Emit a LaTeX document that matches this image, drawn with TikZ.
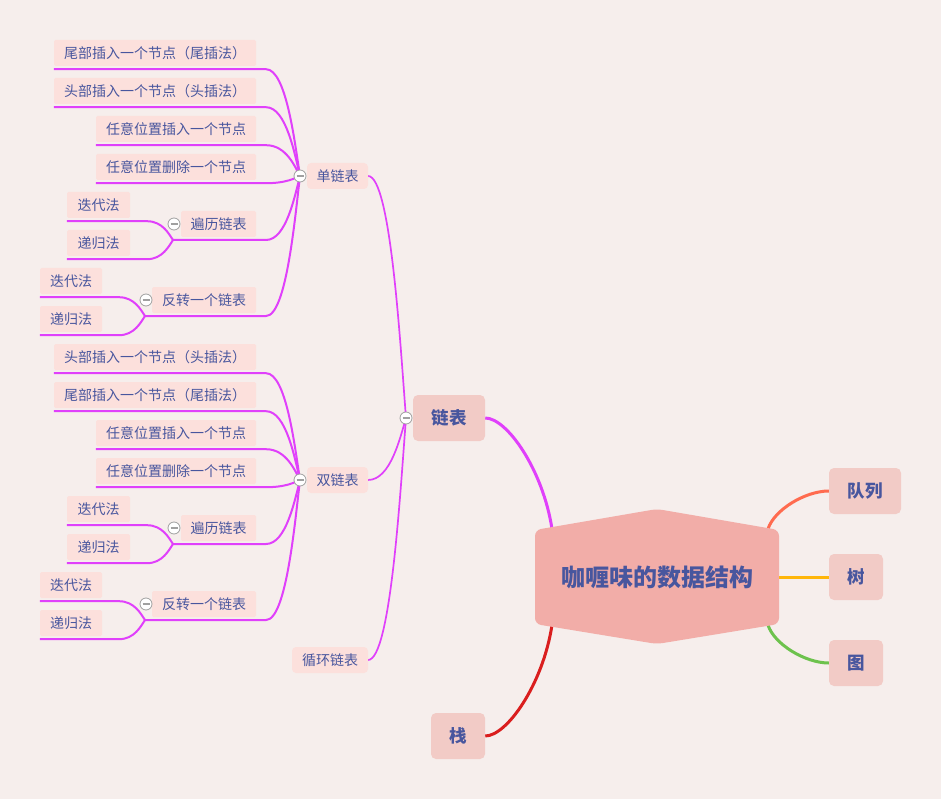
\documentclass[tikz,border=0pt]{standalone}
\usepackage{fontspec}
\newfontfamily\cjk{Noto Sans CJK SC}
\usetikzlibrary{calc}
\definecolor{bgc}{HTML}{F6EEEC}
\definecolor{leaffill}{HTML}{FCE0DC}
\definecolor{lonefill}{HTML}{F2CBC6}
\definecolor{ctrfill}{HTML}{F2ADA8}
\definecolor{txt}{HTML}{48569E}
\definecolor{mag}{HTML}{E040FB}
\definecolor{redl}{HTML}{DA1E1E}
\definecolor{orl}{HTML}{FF6B4F}
\definecolor{yel}{HTML}{FFB60A}
\definecolor{grn}{HTML}{6DC24D}
\definecolor{togc}{HTML}{A0A0A0}
\pgfdeclarelayer{back}
\pgfdeclarelayer{lines}
\pgfsetlayers{back,lines,main}
\tikzset{
  lvlthree/.style={fill=leaffill, text=txt, font=\cjk\fontsize{14}{16}\selectfont, minimum height=26pt, inner sep=0pt, rounded corners=1.5pt},
  lvltwo/.style={lvlthree, rounded corners=4pt},
  lvlone/.style={fill=lonefill, text=txt, font=\cjk\bfseries\fontsize{17.5}{20}\selectfont, minimum height=46pt, inner sep=0pt, rounded corners=5pt},
  ctrtext/.style={text=txt, font=\cjk\bfseries\fontsize{24}{26}\selectfont, inner sep=0pt},
  br/.style={draw=mag, line width=2pt},
  brtwo/.style={draw=mag, line width=1.7pt},
  lone/.style={line width=3pt},
  tog/.style={circle, draw=togc, fill=white, minimum size=12pt, inner sep=0pt, line width=0.8pt,
    path picture={\draw[togc, line width=1.4pt] ([xshift=-3.5pt]path picture bounding box.center) -- ([xshift=3.5pt]path picture bounding box.center);}},
}
% #1 style, #2 start, #3 x where straight part ends, #4 target
\newcommand\mmconn[4][br]{\draw[#1] let \p1=(#2), \p2=(#4) in (\p1) -- (#3pt,\y1) .. controls ({#3pt+0.6*(\x2-#3pt)},\y1) and ({\x2-0.15*(\x2-#3pt)},{\y2-0.3*(\y2-\y1)}) .. (\p2);}
% #1 prefix, #2 dy, #3 text1, #4 text2, #5 junction toggle
\newcommand\listblock[5]{%
  \node[lvlthree, minimum width=202pt] (#1n1) at (155,{53+#2}) {#3};
  \node[lvlthree, minimum width=202pt] (#1n2) at (155,{91+#2}) {#4};
  \node[lvlthree, minimum width=160pt] (#1n3) at (176,{129+#2}) {任意位置插入一个节点};
  \node[lvlthree, minimum width=160pt] (#1n4) at (176,{167+#2}) {任意位置删除一个节点};
  \node[lvlthree, minimum width=75pt] (#1n5) at (218.5,{224+#2}) {遍历链表};
  \node[lvlthree, minimum width=104pt] (#1n6) at (204,{300+#2}) {反转一个链表};
  \node[lvlthree, minimum width=63pt] (#1n5a) at (98.5,{205+#2}) {迭代法};
  \node[lvlthree, minimum width=63pt] (#1n5b) at (98.5,{243+#2}) {递归法};
  \node[lvlthree, minimum width=62pt] (#1n6a) at (71,{281+#2}) {迭代法};
  \node[lvlthree, minimum width=62pt] (#1n6b) at (71,{319+#2}) {递归法};
  \coordinate (#1j5) at (173,{240+#2});
  \coordinate (#1j6) at (145,{316+#2});
  \begin{pgfonlayer}{lines}
    \mmconn{[yshift=-3pt]#1n1.south west}{266}{#5.center}
    \mmconn{[yshift=-3pt]#1n2.south west}{266}{#5.center}
    \mmconn{[yshift=-3pt]#1n3.south west}{266}{#5.center}
    \mmconn{[yshift=-3pt]#1n4.south west}{266}{#5.center}
    \mmconn{#1j5}{266}{#5.center}
    \mmconn{#1j6}{266}{#5.center}
    \mmconn{[yshift=-3pt]#1n5a.south west}{147}{#1j5}
    \mmconn{[yshift=-3pt]#1n5b.south west}{147}{#1j5}
    \mmconn{[yshift=-3pt]#1n6a.south west}{119}{#1j6}
    \mmconn{[yshift=-3pt]#1n6b.south west}{119}{#1j6}
  \end{pgfonlayer}
  \node[tog] (#1t5) at (174,{224+#2}) {};
  \node[tog] (#1t6) at (146,{300+#2}) {};
}
\begin{document}
\begin{tikzpicture}[x=1pt,y=-1pt]
\useasboundingbox (0,0) rectangle (941,799);
\begin{pgfonlayer}{back}
  \fill[bgc] (0,0) rectangle (941,799);
\end{pgfonlayer}

% centre
\fill[ctrfill, rounded corners=6pt] (535,530) -- (657,509) -- (779,530) -- (779,624) -- (657,644) -- (535,624) -- cycle;
\node[ctrtext] (c) at (657,577) {咖喱味的数据结构};
\coordinate (cTL) at (552,529);
\coordinate (cBL) at (552,625);
\coordinate (cTR) at (768,529);
\coordinate (cR) at (778,577);
\coordinate (cBR) at (768,625);

% level one
\node[lvlone, minimum width=72pt] (k) at (449,418) {链表};
\node[lvlone, minimum width=72pt] (q) at (865,491) {队列};
\node[lvlone, minimum width=54pt] (sh) at (856,577) {树};
\node[lvlone, minimum width=54pt] (g) at (856,663) {图};
\node[lvlone, minimum width=54pt] (z) at (458,736) {栈};

% level two
\node[lvltwo, minimum width=61pt] (s1) at (337.5,176) {单链表};
\node[lvltwo, minimum width=61pt] (s2) at (337.5,480) {双链表};
\node[lvltwo, minimum width=76pt] (s3) at (330,660) {循环链表};
\node[tog] (t0) at (406,418) {};
\node[tog] (s1t) at (300,176) {};
\node[tog] (s2t) at (300,480) {};

\begin{pgfonlayer}{lines}
  \draw[lone, draw=mag] (k.east) .. controls (507,418) and (543,470) .. (cTL);
  \draw[lone, draw=redl] (z.east) .. controls (507,736) and (543,684) .. (cBL);
  \draw[lone, draw=orl] (q.west) .. controls (805,491) and (774,510) .. (cTR);
  \draw[lone, draw=yel] (cR) -- (sh.west);
  \draw[lone, draw=grn] (g.west) .. controls (805,663) and (774,644) .. (cBR);
  \mmconn[brtwo]{s1.east}{368}{t0.center}
  \mmconn[brtwo]{s2.east}{368}{t0.center}
  \mmconn[brtwo]{s3.east}{368}{t0.center}
\end{pgfonlayer}

\listblock{a}{0}{尾部插入一个节点（尾插法）}{头部插入一个节点（头插法）}{s1t}
\listblock{b}{304}{头部插入一个节点（头插法）}{尾部插入一个节点（尾插法）}{s2t}
\end{tikzpicture}
\end{document}
